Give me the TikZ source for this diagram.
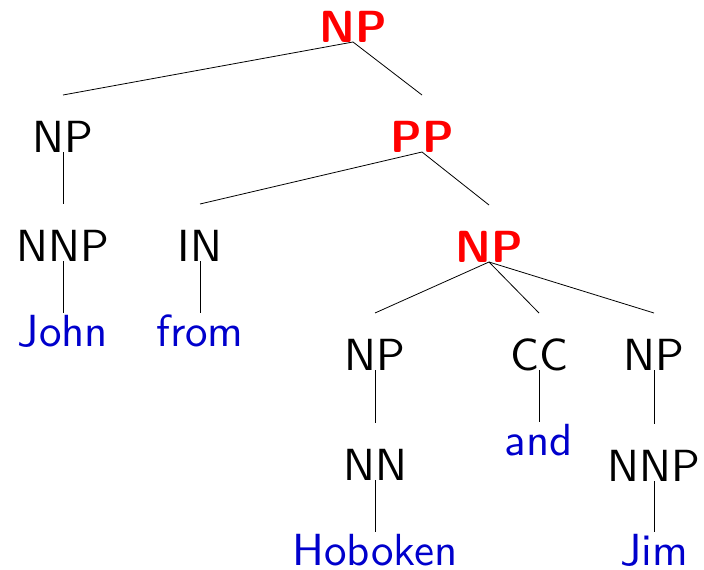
\documentclass[tikz,border=0pt]{standalone}
\usepackage{fontspec}
% the 10pt design of Latin Modern Sans, scaled up
\newfontfamily\treefont{lmsans10-regular.otf}[BoldFont=lmsans10-bold.otf]
\definecolor{wordblue}{RGB}{0,0,204}
\begin{document}
\begin{tikzpicture}[x=1pt,y=-1pt,
  every node/.style={inner sep=0pt, outer sep=0pt, anchor=base, text depth=0pt,
    font=\treefont\fontsize{45}{54}\selectfont},
  cat/.style={text height=57pt},
  hicat/.style={cat, text=red, font=\treefont\fontsize{45}{54}\selectfont\bfseries},
  word/.style={text height=33pt, text=wordblue},
  branch/.style={draw=black, line width=0.8pt}]
\useasboundingbox (0,0) rectangle (704,570);

% categories
\node[hicat] (root) at (353,42) {NP};
\node[cat]   (np1)  at (63,152) {NP};
\node[hicat] (pp)   at (422,152) {PP};
\node[cat]   (nnp1) at (63,261) {NNP};
\node[cat]   (in)   at (200,261) {IN};
\node[hicat] (np2)  at (489,262) {NP};
\node[cat]   (np3)  at (375,370) {NP};
\node[cat]   (cc)   at (539,370) {CC};
\node[cat]   (np4)  at (654,370) {NP};
\node[cat]   (nn)   at (375,480) {NN};
\node[cat]   (nnp2) at (654,481) {NNP};

% words
\node[word] (john) at (63,346) {John};
\node[word] (from) at (200,346) {from};
\node[word] (and)  at (539,455) {and};
\node[word] (hob)  at (375,565) {Hoboken};
\node[word] (jim)  at (654,565) {Jim};

% branches
\draw[branch] (root.south) -- (np1.north);
\draw[branch] (root.south) -- (pp.north);
\draw[branch] (np1.south) -- (nnp1.north);
\draw[branch] (nnp1.south) -- (john.north);
\draw[branch] (pp.south) -- (in.north);
\draw[branch] (pp.south) -- (np2.north);
\draw[branch] (in.south) -- (from.north);
\draw[branch] (np2.south) -- (np3.north);
\draw[branch] (np2.south) -- (cc.north);
\draw[branch] (np2.south) -- (np4.north);
\draw[branch] (np3.south) -- (nn.north);
\draw[branch] (nn.south) -- (hob.north);
\draw[branch] (cc.south) -- (and.north);
\draw[branch] (np4.south) -- (nnp2.north);
\draw[branch] (nnp2.south) -- (jim.north);
\end{tikzpicture}
\end{document}
